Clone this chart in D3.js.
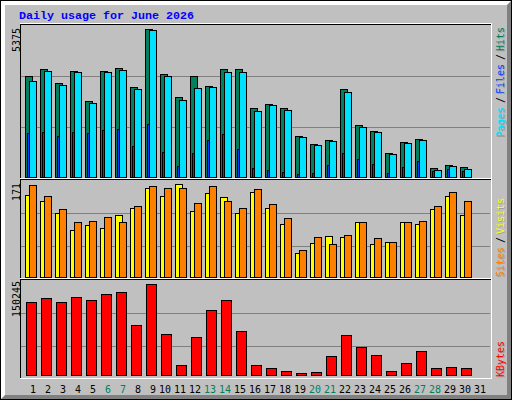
<!DOCTYPE html>
<html><head><meta charset="utf-8">
<script src="https://cdn.jsdelivr.net/npm/d3@7/dist/d3.min.js"></script>
<style>html,body{margin:0;padding:0;background:#c0c0c0}svg{display:block}</style>
</head><body><svg id="c" width="512" height="400"></svg>
<script>
const days=d3.range(1,32);
const weekend=[6,7,13,14,20,21,27,28];
const hits=[3660,3916,3405,3843,2748,3843,3952,3259,5375,3733,2894,3660,3296,3916,3916,2493,2639,2493,1471,1180,1326,3186,1873,1654,851,1253,1362,304,413,341,0];
const files=[3478,3843,3332,3806,2675,3806,3879,3186,5338,3660,2785,3223,3259,3806,3806,2384,2602,2420,1435,1143,1289,3077,1800,1617,815,1216,1326,231,377,268,0];
const pages=[1581,1617,1471,1617,1581,1690,1727,1107,1909,888,377,851,1326,1544,997,304,231,158,85,122,413,851,632,450,122,341,559,195,268,195,0];
const visits=[151,140,117,86,95,91,114,127,164,149,171,121,154,147,117,156,127,97,43,62,75,73,102,60,64,101,97,125,149,114,0];
const sites=[169,149,125,101,104,110,102,130,167,164,165,136,167,141,128,162,134,108,49,73,60,78,101,71,64,102,104,130,156,141,0];
const kbytes=[120527,127131,120527,128782,123829,133735,137037,82553,150245,67693,16511,62740,107318,123829,72646,16511,11557,6604,3302,4953,31370,66042,46229,33021,6604,19813,39625,11557,13208,11557,0];
const maxLabels=["5375","171","150245"];
const sideWords=[["Pages","/","Files","/","Hits"],["Sites","/","Visits"],["KBytes"]];
const sideColors=[["#00e0ff","#000","#0040ff","#000","#00805c"],["#ff8000","#000","#ffff00"],["#ff0000"]];
const title="Daily usage for June 2026";

const svg=d3.select("#c");
const MONO="'DejaVu Sans Mono','Liberation Mono',monospace";
svg.append("rect").attr("width",512).attr("height",400).attr("fill","#c0c0c0");
const px=(x,y,w,h,c)=>svg.append("rect").attr("x",x).attr("y",y).attr("width",w).attr("height",h).attr("fill",c).attr("shape-rendering","crispEdges");
px(1,1,510,4,"#fff");px(1,1,4,398,"#fff");
px(507,1,4,398,"#808080");px(1,395,510,4,"#808080");
svg.append("polygon").attr("points","507,5 511,1 507,1").attr("fill","#fff");
svg.append("polygon").attr("points","5,395 1,399 1,395").attr("fill","#fff");
px(0,0,512,1,"#000");px(0,0,1,400,"#000");px(511,0,1,400,"#000");px(0,399,512,1,"#000");

const xBand=d3.scaleBand().domain(days).range([24.8,489.8]);
const panels=[
 {top:25,bottom:178,base:176.5,peak:29.3,max:5375},
 {top:180,bottom:279,base:276.7,peak:184.3,max:171},
 {top:280,bottom:378.5,base:375.3,peak:284.3,max:150245}
];
panels.forEach(p=>{p.y=d3.scaleLinear().domain([0,p.max]).range([p.base,p.peak]);});
const gridY=p=>[1,2].map(k=>p.top+(p.bottom-p.top)*k/3);

panels.forEach(p=>{
  const g=svg.append("g");
  g.selectAll("line").data(gridY(p)).join("line").attr("x1",21).attr("x2",490)
    .attr("y1",d=>Math.round(d)+.5).attr("y2",d=>Math.round(d)+.5).attr("stroke","#808080");
});
// frames: black top and left, white bottom and right
[[24,179],[179,279],[279,378]].forEach(([t,b])=>{
  px(20,t,1,b-t,"#000");px(20,t,471,1,"#000");
  px(21,b,471,1,"#fff");px(491,t,1,b-t+1,"#fff");
  px(20,t-1,472,1,"#fff");
});
px(20,378,472,1,"#fff");

function bars(panel,data,off,w,fill){
  const y=panels[panel].y;
  svg.append("g").selectAll("rect").data(data.map((v,i)=>({v,d:days[i]})).filter(d=>d.v>0)).join("rect")
    .attr("x",d=>Math.round(xBand(d.d)+off)+.5)
    .attr("y",d=>Math.round(y(d.v))+.5)
    .attr("width",w)
    .attr("height",d=>Math.max(1,Math.round(y(0))-Math.round(y(d.v))))
    .attr("fill",fill).attr("stroke","#000").attr("shape-rendering","crispEdges");
}
bars(0,hits,0,7,"#00805c");
bars(0,pages,2,2,"#0040ff");
bars(0,files,4,7,"#00e0ff");
bars(1,visits,0,7,"#ffff00");
bars(1,sites,4,7,"#ff8000");
bars(2,kbytes,1,10,"#ff0000");

svg.append("text").attr("x",19).attr("y",19).attr("fill","#0000ff")
  .attr("font-family","'Liberation Mono',monospace").attr("font-weight","bold").attr("font-size",11.67).text(title);

// max labels
[[19.5,28],[19.5,183],[19.5,281]].forEach((pos,i)=>{
  svg.append("text").attr("transform",`translate(${pos[0]},${pos[1]}) rotate(-90)`)
    .attr("text-anchor","end").attr("font-family",MONO).attr("font-size",11)
    .attr("textLength",maxLabels[i].length*6).attr("lengthAdjust","spacingAndGlyphs")
    .attr("fill","#000").text(maxLabels[i]);
});

// side labels: each word placed upward along the right margin with a grey drop shadow
const sideBase=[137,277,377];
sideWords.forEach((words,i)=>{
  let along=0;
  words.forEach((w,j)=>{
    const isSlash=w==="/";
    if(isSlash) along+=4;
    [["#a0a0a0",1,1],[sideColors[i][j],0,0]].forEach(([col,dx,dy])=>{
      if(isSlash&&dx) return;
      svg.append("text").attr("transform",`translate(${504+dx},${sideBase[i]-along+dy}) rotate(-90)`)
        .attr("font-family",MONO).attr("font-size",11)
        .attr("textLength",w.length*6).attr("lengthAdjust","spacingAndGlyphs")
        .attr("fill",col).text(w);
    });
    along+=isSlash?9:w.length*6;
  });
});

// day labels: right-aligned to each day's slot
svg.append("g").selectAll("text").data(days).join("text")
  .attr("x",d=>xBand(d)+11.2)
  .attr("y",393).attr("text-anchor","end")
  .attr("font-family",MONO).attr("font-size",11)
  .attr("textLength",d=>String(d).length*6).attr("lengthAdjust","spacingAndGlyphs")
  .attr("fill",d=>weekend.includes(d)?"#00805c":"#000").text(d=>d);
</script></body></html>
